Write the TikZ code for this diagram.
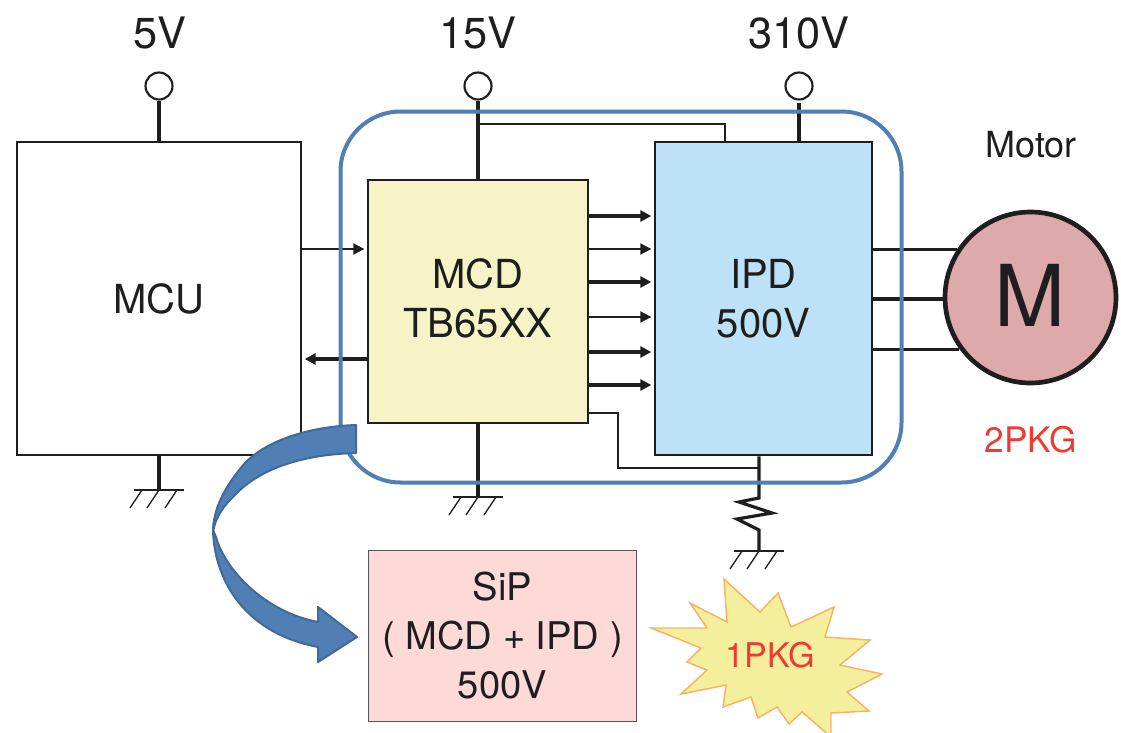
\documentclass[tikz,border=0pt]{standalone}
\usepackage{fontspec}
\setmainfont{TeX Gyre Heros}
\usetikzlibrary{arrows.meta}
\definecolor{mcdfill}{HTML}{F6F4C6}
\definecolor{ipdfill}{HTML}{BDE2F7}
\definecolor{sipfill}{HTML}{FDD9D8}
\definecolor{motfill}{HTML}{DDA9AB}
\definecolor{blueln}{HTML}{4F7FB5}
\definecolor{bluedk}{HTML}{40689A}
\definecolor{burstfill}{HTML}{F3EF9C}
\definecolor{burstln}{HTML}{F7B262}
\definecolor{redtx}{HTML}{EE3A30}
\definecolor{ink}{HTML}{1E1E1E}
\tikzset{
  x=0.75pt,y=-0.75pt,
  block/.style={draw=ink,line width=1.9pt,rectangle,inner sep=0pt,align=center,font=\fontsize{30}{37}\selectfont,text=ink},
  blocktext/.style={inner sep=0pt,align=center,font=\fontsize{30}{37}\selectfont,text=ink},
  term/.style={draw=ink,line width=1.6pt,circle,inner sep=0pt,minimum size=27*0.75pt,fill=white},
  lbl/.style={inner sep=0pt,text=ink,font=\fontsize{32.5}{38}\selectfont},
  wire/.style={draw=ink,line width=2.4pt},
  thinw/.style={draw=ink,line width=1.5pt},
  sig/.style={draw=ink,line width=1.4pt,shorten >=1.8pt,-{Triangle[length=8.25pt,width=8.25pt]}},
  sigb/.style={draw=ink,line width=2.4pt,shorten >=1.8pt,-{Triangle[length=8.25pt,width=8.25pt]}},
  gndbar/.style={draw=ink,line width=2.2pt},
  hatch/.style={draw=ink,line width=1pt},
  arrowpart/.style={fill=blueln,draw=bluedk,line width=1.5pt,line join=round},
}
\newcommand{\gnd}[1]{%
  \draw[gndbar] ([xshift=-18.75pt]#1) -- ([xshift=18.75pt]#1);
  \foreach \dx in {-17,0,18}{
    \draw[hatch] ([xshift=\dx*0.75pt]#1) -- ([xshift=\dx*0.75pt-9pt,yshift=-13.5pt]#1);
  }}
\begin{document}
\begin{tikzpicture}
\useasboundingbox (0,0) rectangle (1121,732);
% blocks
\node[block,fill=white,minimum width=284*0.75pt,minimum height=313*0.75pt] (mcu) at (159,298.5) {MCU};
\node[block,fill=mcdfill,minimum width=220*0.75pt,minimum height=243*0.75pt] (mcd) at (478,301.5) {};
\node[blocktext] (mcdtext) at (478,298.5) {MCD\\TB65XX};
\node[block,fill=ipdfill,minimum width=217*0.75pt,minimum height=313*0.75pt] (ipd) at (763.5,298.5) {IPD\\500V};
\node[draw=ink,line width=3.5pt,circle,fill=motfill,inner sep=0pt,minimum size=171*0.75pt] (motor) at (1030.5,297.5) {};
\node[inner sep=0pt,text=ink,font=\fontsize{64}{64}\selectfont] (motortext) at (1030.5,295) {M};
\node[draw=ink!75,line width=1.4pt,rectangle,fill=sipfill,inner sep=0pt,align=center,minimum width=268*0.75pt,minimum height=171*0.75pt,text=ink,font=\fontsize{28.6}{36.75}\selectfont] (sip) at (502.5,636) {SiP\\( MCD + IPD )\\500V};
% terminals
\node[term] (t5) at (159,86) {};
\node[term] (t15) at (478,86) {};
\node[term] (t310) at (799,86) {};
\node[lbl,anchor=base] (l5) at (160,48) {5V};
\node[lbl,anchor=base] (l15) at (478,48) {15V};
\node[lbl,anchor=base] (l310) at (799,48) {310V};
\node[lbl,font=\fontsize{27}{30}\selectfont,anchor=base] (lmotor) at (1031,157) {Motor};
\node[lbl,font=\fontsize{26.4}{30}\selectfont,text=redtx,anchor=base] (l2pkg) at (1031,452) {2PKG};
% power connections
\draw[wire] (t5) -- (mcu.north -| t5);
\draw[wire] (t15) -- (mcd.north);
\draw[wire,shorten <=2pt] (t310) -- (ipd.north -| t310);
\coordinate (tap15) at (478,124);
\coordinate (tapipd) at (725,124);
\draw[thinw] (tap15) -- (tapipd) -- (ipd.north -| tapipd);
% grounds
\coordinate (g1) at (159,490);
\coordinate (g2) at (478,497);
\coordinate (g3) at (759,551);
\draw[wire] (mcu.south -| g1) -- (g1);
\gnd{g1}
\draw[wire] (mcd.south) -- (g2);
\gnd{g2}
% IPD to resistor
\coordinate (r0) at (759,498);
\coordinate (r1) at (759,530);
\draw[wire,line join=miter] (ipd.south -| g3) -- (r0) -- (739,502) -- (772,513) -- (737,519) -- (r1) -- (g3);
\gnd{g3}
\coordinate (sense1) at (618,413);
\coordinate (sense2) at (618,468);
\coordinate (sense3) at (759,468);
\draw[thinw] (mcd.east |- sense1) -- (sense1) -- (sense2) -- (sense3);
% MCU - MCD
\draw[sig] (mcu.east |- 0,249) -- (mcd.west |- 0,249);
\draw[sigb] (mcd.west |- 0,359) -- (mcu.east |- 0,359);
% MCD - IPD
\foreach \yy/\st in {216/sigb,249/sig,282/sigb,317/sig,352/sigb,385/sigb}{
  \draw[\st] (mcd.east |- 0,\yy) -- (ipd.west |- 0,\yy);
}
% motor lines
\foreach \ang in {147,181,216}{
  \draw[wire] (ipd.east |- motor.\ang) -- (motor.\ang);
}
% outer rounded frame, over the wires
\node[draw=blueln,line width=3pt,rectangle,rounded corners=45pt,minimum width=561*0.75pt,minimum height=371*0.75pt] (frame) at (621,297) {};
% curved arrow
\draw[arrowpart] (356,425)
  .. controls (300,427) and (262,445) .. (245,463)
  .. controls (224,487) and (213,510) .. (213,532)
  .. controls (216,515) and (225,505) .. (233,497)
  .. controls (250,478) and (285,455) .. (356,453) -- cycle;
\draw[arrowpart] (213,530)
  .. controls (214,575) and (240,632) .. (318,647)
  -- (318,662) -- (357,637) -- (318,607) -- (318,622)
  .. controls (265,612) and (225,570) .. (216,537) -- cycle;
% burst
\begin{scope}
\clip (0,0) rectangle (1121,732);
\draw[fill=burstfill,draw=burstln,line width=1.1pt,line join=miter]
 (724,579) -- (760,612) -- (778,593) -- (791,627) -- (834,607) -- (825,637) -- (870,640) -- (840,665) -- (882,674) -- (847,692) -- (869,711) -- (831,713) -- (831,737) -- (802,712) -- (789,724) -- (777,707) -- (758,718) -- (751,697) -- (723,707) -- (726,685) -- (681,694) -- (707,670) -- (687,662) -- (701,648) -- (651,628) -- (707,628) -- (690,603) -- (727,622) -- cycle;
\end{scope}
\node[text=redtx,inner sep=0pt,font=\fontsize{25.5}{30}\selectfont] (l1pkg) at (770,655) {1PKG};
\end{tikzpicture}
\end{document}
